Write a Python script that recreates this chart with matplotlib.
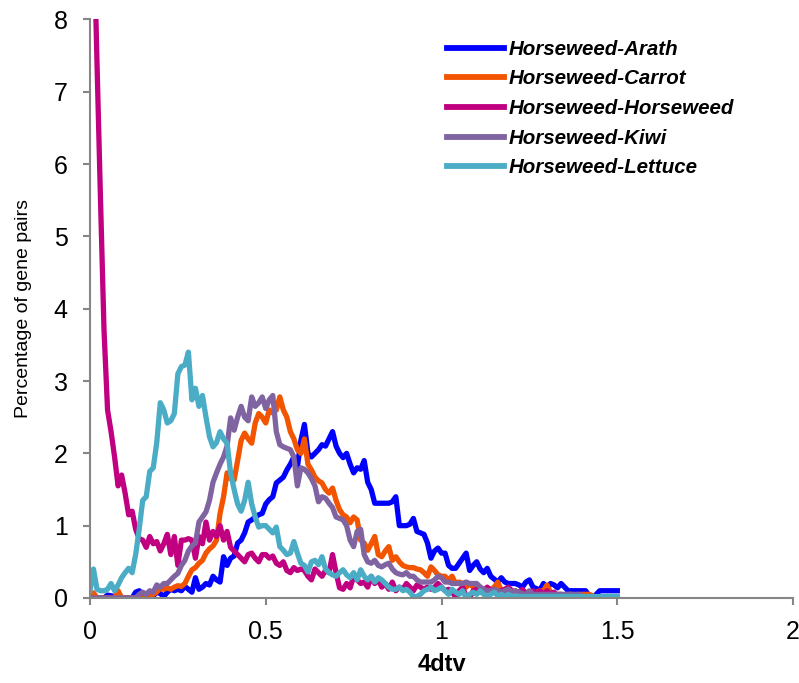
import numpy as np
import matplotlib
matplotlib.use("Agg")
import matplotlib.pyplot as plt

# 4dtv bins, step 0.01
x = np.round(np.arange(0, 1.505, 0.01), 2)

arath = [0, 0, 0, 0, 0, 0.04, 0.03, 0.02, 0, 0,
         0, 0, 0, 0.08, 0.1, 0.05, 0.03, 0.05, 0.03, 0.08,
         0.06, 0.02, 0.08, 0.12, 0.1, 0.12, 0.1, 0.16, 0.12, 0.08,
         0.28, 0.12, 0.15, 0.2, 0.18, 0.3, 0.25, 0.22, 0.57, 0.45,
         0.55, 0.58, 0.76, 0.8, 0.9, 1.05, 1.08, 1.12, 1.15, 1.17,
         1.3, 1.36, 1.4, 1.59, 1.63, 1.67, 1.77, 1.85, 1.95, 1.81,
         2.18, 2.4, 2.0, 1.95, 2.0, 2.05, 2.12, 2.1, 2.2, 2.3,
         2.1, 2.0, 1.94, 2.0, 1.85, 1.73, 1.8, 1.78, 1.9, 1.6,
         1.5, 1.31, 1.31, 1.31, 1.31, 1.31, 1.33, 1.4, 1.0, 1.0,
         1.0, 1.02, 1.1, 0.92, 0.9, 0.88, 0.76, 0.55, 0.65, 0.69,
         0.62, 0.62, 0.45, 0.41, 0.41, 0.48, 0.55, 0.62, 0.38, 0.45,
         0.5, 0.4, 0.35, 0.41, 0.3, 0.26, 0.22, 0.28, 0.22, 0.2,
         0.2, 0.2, 0.18, 0.15, 0.22, 0.25, 0.15, 0.13, 0.11, 0.2,
         0.14, 0.2, 0.18, 0.14, 0.2, 0.15, 0.1, 0.1, 0.1, 0.1,
         0.1, 0.1, 0.03, 0.0, 0.05, 0.1, 0.1, 0.1, 0.1, 0.1,
         0.1]

carrot = [0, 0.07, 0, 0, 0, 0, 0, 0, 0.1, 0,
          0, 0, 0, 0, 0, 0, 0, 0, 0.05, 0.08,
          0.14, 0.12, 0.14, 0.12, 0.15, 0.17, 0.16, 0.2, 0.3, 0.39,
          0.42, 0.48, 0.52, 0.62, 0.68, 0.72, 0.8, 1.17, 1.4, 1.73,
          1.65, 1.63, 1.9, 2.18, 2.28, 2.2, 2.14, 2.42, 2.55, 2.5,
          2.42, 2.6, 2.56, 2.6, 2.78, 2.6, 2.5, 2.3, 2.2, 2.05,
          2.0, 2.2, 1.85, 1.77, 1.67, 1.62, 1.59, 1.5, 1.45, 1.52,
          1.35, 1.22, 1.15, 1.12, 1.04, 1.12, 1.08, 0.8, 0.76, 0.66,
          0.75, 0.85, 0.6, 0.57, 0.65, 0.71, 0.52, 0.57, 0.5, 0.45,
          0.43, 0.42, 0.42, 0.4, 0.39, 0.35, 0.3, 0.43, 0.38, 0.32,
          0.3, 0.3, 0.25, 0.3, 0.2, 0.22, 0.2, 0.15, 0.2, 0.15,
          0.18, 0.15, 0.1, 0.1, 0.12, 0.15, 0.22, 0.1, 0.08, 0.1,
          0.08, 0.1, 0.06, 0.05, 0.08, 0.05, 0.05, 0.08, 0.1, 0.1,
          0.18, 0.08, 0.05, 0.05, 0.05, 0.03, 0.05, 0.05, 0.03, 0.05,
          0.05, 0.05, 0.05, 0.03, 0, 0, 0, 0, 0, 0,
          0]

horseweed = [13, 9.4, 7.4, 5.5, 3.7, 2.6, 2.3, 1.95, 1.55, 1.7,
             1.45, 1.15, 1.2, 0.95, 0.82, 0.8, 0.7, 0.85, 0.75, 0.78,
             0.65, 0.75, 0.88, 0.6, 0.85, 0.45, 0.8, 0.8, 0.82, 0.8,
             0.55, 0.85, 0.75, 1.05, 0.8, 0.92, 0.85, 1.0, 0.8, 0.92,
             0.7, 0.65, 0.6, 0.55, 0.5, 0.6, 0.62, 0.55, 0.5, 0.6,
             0.6, 0.55, 0.58, 0.48, 0.45, 0.5, 0.38, 0.35, 0.42, 0.38,
             0.4, 0.38, 0.3, 0.25, 0.4, 0.35, 0.3, 0.38, 0.35, 0.6,
             0.35, 0.14, 0.12, 0.2, 0.14, 0.3, 0.25, 0.2, 0.22, 0.15,
             0.3, 0.2, 0.25, 0.15, 0.2, 0.12, 0.22, 0.1, 0.15, 0.12,
             0.2, 0.15, 0.1, 0.18, 0.15, 0.12, 0.15, 0.12, 0.15, 0.2,
             0.15, 0.1, 0.12, 0.1, 0, 0.1, 0.15, 0.02, 0, 0.1,
             0.12, 0.08, 0.1, 0.15, 0.1, 0.12, 0.05, 0.1, 0.12, 0.15,
             0.1, 0.05, 0.08, 0.12, 0.06, 0.05, 0.1, 0.05, 0.1, 0.05,
             0.1, 0.05, 0.08, 0.03, 0.05, 0, 0, 0, 0, 0,
             0, 0, 0, 0, 0, 0, 0, 0, 0, 0,
             0]

kiwi = [0, 0, 0, 0, 0, 0, 0, 0, 0, 0,
        0, 0, 0, 0, 0.05, 0.08, 0.05, 0.1, 0.08, 0.18,
        0.15, 0.2, 0.2, 0.25, 0.3, 0.34, 0.45, 0.52, 0.65, 0.72,
        0.76, 1.05, 1.12, 1.19, 1.35, 1.6, 1.73, 1.85, 1.95, 2.1,
        2.49, 2.32, 2.5, 2.65, 2.5, 2.45, 2.78, 2.65, 2.7, 2.78,
        2.62, 2.74, 2.8, 2.3, 2.12, 2.09, 2.07, 2.05, 1.95, 1.55,
        1.8, 1.78, 1.73, 1.65, 1.55, 1.33, 1.4, 1.38, 1.31, 1.25,
        1.12, 1.1, 1.08, 1.0, 0.8, 0.71, 0.92, 0.95, 0.6, 0.5,
        0.48, 0.52, 0.45, 0.43, 0.46, 0.48, 0.4, 0.35, 0.33, 0.32,
        0.35, 0.3, 0.3, 0.25, 0.22, 0.22, 0.22, 0.22, 0.25, 0.3,
        0.28, 0.22, 0.22, 0.2, 0.2, 0.2, 0.2, 0.22, 0.2, 0.2,
        0.2, 0.15, 0.12, 0.1, 0.1, 0.12, 0.1, 0.08, 0.1, 0.12,
        0.08, 0.1, 0.08, 0.06, 0.05, 0.1, 0.05, 0.05, 0.05, 0.05,
        0.05, 0.05, 0.05, 0.05, 0.05, 0.05, 0.05, 0.05, 0.05, 0.05,
        0.03, 0, 0, 0, 0, 0, 0, 0, 0, 0,
        0]

lettuce = [0.1, 0.4, 0.12, 0.1, 0.1, 0.12, 0.2, 0.1, 0.18, 0.28,
           0.35, 0.41, 0.35, 0.6, 0.95, 1.35, 1.4, 1.75, 1.8, 2.15,
           2.7, 2.6, 2.42, 2.45, 2.55, 3.1, 3.2, 3.22, 3.4, 2.74,
           2.9, 2.65, 2.8, 2.5, 2.23, 2.09, 2.15, 2.3, 2.2, 2.14,
           1.73, 1.5, 1.3, 1.2, 1.35, 1.6, 1.3, 1.12, 0.98, 1.0,
           1.0, 0.95, 0.9, 0.98, 0.71, 0.66, 0.6, 0.62, 0.78, 0.62,
           0.48, 0.45, 0.36, 0.5, 0.52, 0.46, 0.57, 0.4, 0.35, 0.32,
           0.3, 0.35, 0.39, 0.32, 0.28, 0.35, 0.25, 0.39, 0.3, 0.25,
           0.3, 0.22, 0.28, 0.25, 0.2, 0.15, 0.12, 0.12, 0.15, 0.1,
           0.12, 0.08, 0.02, 0.02, 0.05, 0.1, 0.12, 0.15, 0.1, 0.12,
           0.15, 0.1, 0.05, 0.12, 0.08, 0.05, 0.1, 0, 0.05, 0.08,
           0.05, 0.1, 0.05, 0.02, 0.05, 0.08, 0.03, 0.05, 0.02, 0.05,
           0.02, 0.03, 0.02, 0.02, 0.02, 0.02, 0.02, 0.02, 0.02, 0.02,
           0.02, 0.02, 0.02, 0.02, 0.02, 0.02, 0.02, 0.02, 0.02, 0.02,
           0.02, 0.02, 0.02, 0.02, 0.02, 0.02, 0.02, 0.02, 0.02, 0.02,
           0.02]

labels = ["Horseweed-Arath", "Horseweed-Carrot", "Horseweed-Horseweed",
          "Horseweed-Kiwi", "Horseweed-Lettuce"]
colors = ["#0000ff", "#f25400", "#c00080", "#8064a2", "#4bacc6"]
series = [arath, carrot, horseweed, kiwi, lettuce]

plt.rcParams['font.family'] = ['Liberation Sans', 'DejaVu Sans']

fig = plt.figure(figsize=(7.99, 6.83), dpi=100)
ax = fig.add_axes([0.1126, 0.1245, 0.88, 0.847])

for vals, lab, col in zip(series, labels, colors):
    ax.plot(x, vals, color=col, lw=3.8, label=lab, solid_joinstyle='round')

ax.set_xlim(0, 2)
ax.set_ylim(0, 8)
ax.set_xticks([0, 0.5, 1, 1.5, 2])
ax.set_xticklabels(["0", "0.5", "1", "1.5", "2"])
ax.set_yticks(range(0, 9))

for s in ["top", "right"]:
    ax.spines[s].set_visible(False)
for s in ["left", "bottom"]:
    ax.spines[s].set_color("#868686")
    ax.spines[s].set_linewidth(1.5)

narrow = ['Liberation Sans Narrow', 'Liberation Sans', 'DejaVu Sans']
ax.tick_params(axis='both', colors="#868686", length=5, width=1.5, pad=11,
               labelcolor='black', labelsize=18)
for t in ax.get_xticklabels() + ax.get_yticklabels():
    t.set_family(narrow)

ax.set_xlabel("4dtv", fontsize=17, fontweight='bold', labelpad=6)
ax.set_ylabel("Percentage of gene pairs", fontsize=14, labelpad=16)

leg = ax.legend(loc='upper left', bbox_to_anchor=(0.481, 0.997), frameon=False,
                handlelength=2.8, handletextpad=0.2, labelspacing=0.52,
                prop={'size': 14.8, 'weight': 'bold', 'style': 'italic'})
for line in leg.get_lines():
    line.set_linewidth(4.2)

fig.savefig("out.png", dpi=100)
